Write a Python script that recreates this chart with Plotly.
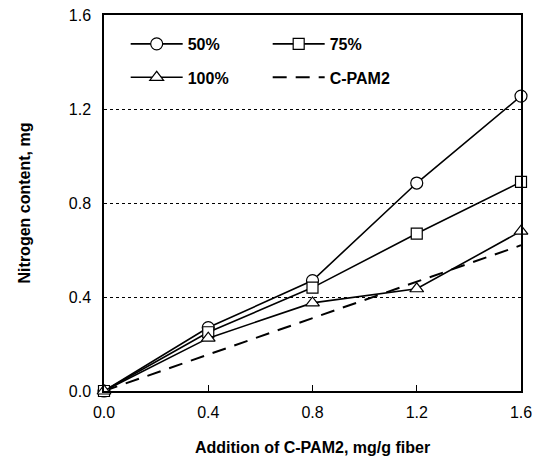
import plotly.graph_objects as go

x_vals = [0.0, 0.4, 0.8, 1.2, 1.6]
y_50 = [0.0, 0.27, 0.47, 0.885, 1.255]
y_75 = [0.0, 0.25, 0.44, 0.67, 0.89]
y_100 = [0.0, 0.225, 0.375, 0.435, 0.68]
y_cpam2 = [0.0, 0.155, 0.31, 0.465, 0.62]
tick_vals = [0.0, 0.4, 0.8, 1.2, 1.6]
tick_text = ["0.0", "0.4", "0.8", "1.2", "1.6"]

FONT = "Liberation Sans, Arial, sans-serif"
fig = go.Figure()

fig.add_trace(go.Scatter(
    x=x_vals, y=y_cpam2, name="C-PAM2", mode="lines",
    line=dict(color="black", width=2, dash="14px,9px"),
    legend="legend2", legendrank=2, cliponaxis=False))

marker_common = dict(color="white", line=dict(color="black", width=1.2))
fig.add_trace(go.Scatter(
    x=x_vals, y=y_50, name="50%", mode="lines+markers",
    line=dict(color="black", width=1.6),
    marker=dict(symbol="circle", size=12, **marker_common),
    legend="legend", legendrank=1, cliponaxis=False))
fig.add_trace(go.Scatter(
    x=x_vals, y=y_75, name="75%", mode="lines+markers",
    line=dict(color="black", width=1.6),
    marker=dict(symbol="square", size=11, **marker_common),
    legend="legend", legendrank=2, cliponaxis=False))
fig.add_trace(go.Scatter(
    x=x_vals, y=y_100, name="100%", mode="lines+markers",
    line=dict(color="black", width=1.6),
    marker=dict(symbol="triangle-up", size=12, **marker_common),
    legend="legend2", legendrank=1, cliponaxis=False))

leg_common = dict(orientation="h", xanchor="left", yanchor="middle",
                  bgcolor="rgba(0,0,0,0)", entrywidth=75, itemwidth=52,
                  font=dict(family=FONT, size=16, color="black", weight="bold"),
                  itemclick=False, itemdoubleclick=False)

fig.update_layout(
    width=532, height=450, autosize=False,
    margin=dict(l=96, r=19, t=7, b=67, autoexpand=False),
    paper_bgcolor="white", plot_bgcolor="white",
    font=dict(family=FONT, size=16, color="black"),
    showlegend=True,
    legend=dict(x=0.052, y=0.923, **leg_common),
    legend2=dict(x=0.052, y=0.834, **leg_common),
    xaxis=dict(
        range=[0, 1.6], tickvals=tick_vals, ticktext=tick_text,
        showline=True, linecolor="black", linewidth=1.5, mirror=True,
        ticks="inside", ticklen=6, tickcolor="black",
        showgrid=False, zeroline=False, automargin=False,
        ticklabeloverflow="allow",
        title=dict(text="<b>Addition of C-PAM2, mg/g fiber</b>",
                   font=dict(family=FONT, size=16), standoff=22),
        ticklabelstandoff=6,
    ),
    yaxis=dict(
        range=[0, 1.6], tickvals=tick_vals, ticktext=tick_text,
        showline=True, linecolor="black", linewidth=1.5, mirror=True,
        ticks="", showgrid=True, gridcolor="black", gridwidth=1,
        griddash="dot", zeroline=False, automargin=False,
        ticklabeloverflow="allow",
        title=dict(text="<b>Nitrogen content, mg</b>",
                   font=dict(family=FONT, size=16), standoff=34),
        ticklabelstandoff=8,
    ),
)

fig.write_html("out.html")
